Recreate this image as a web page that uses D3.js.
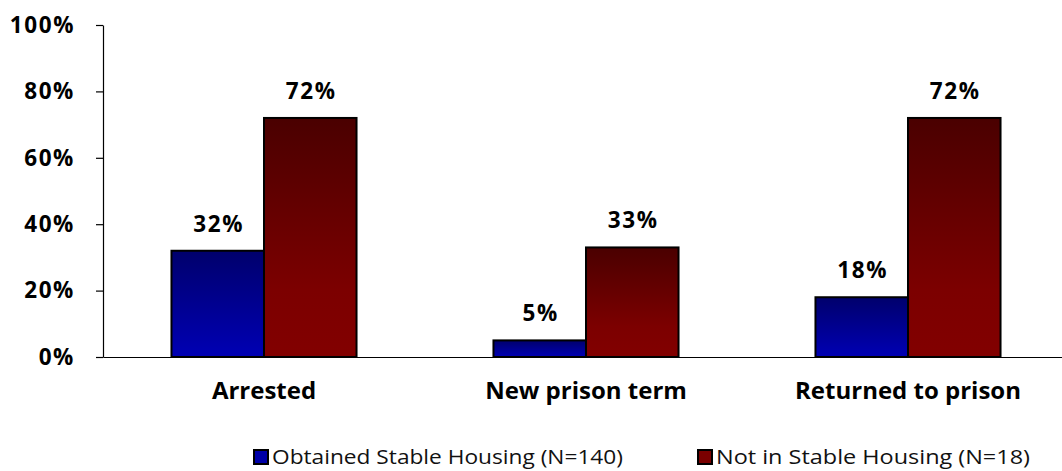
<!DOCTYPE html>
<html>
<head>
<meta charset="utf-8">
<script src="https://cdn.jsdelivr.net/npm/d3@7"></script>
<style>
  html, body { margin: 0; padding: 0; background: #fff; }
  svg { display: block; }
</style>
</head>
<body>
<svg id="chart" width="1062" height="471"></svg>
<script>
// Outcomes by housing status
const categories = ["Arrested", "New prison term", "Returned to prison"];
const seriesNames = ["Obtained Stable Housing (N=140)", "Not in Stable Housing (N=18)"];
const obtainedValues = [32, 5, 18];
const notStableValues = [72, 33, 72];
const yTicks = [0, 20, 40, 60, 80, 100];

const series = [
  { key: "obtained", name: seriesNames[0], values: obtainedValues },
  { key: "notStable", name: seriesNames[1], values: notStableValues }
];

const svg = d3.select("#chart");
const plot = { left: 103, right: 1069, top: 25, bottom: 357 };

const x0 = d3.scaleBand().domain(categories).range([plot.left, plot.right]).paddingInner(0).paddingOuter(0);
const x1 = d3.scaleBand().domain(series.map(s => s.key)).range([0, x0.bandwidth()]).paddingInner(0).paddingOuter(0.74);
const y = d3.scaleLinear().domain([0, 100]).range([plot.bottom, plot.top]);

// Vertical gradients, dark at the top of each bar
const defs = svg.append("defs");
const grads = {
  obtained: [["0%", "#00006c"], ["100%", "#0000b4"]],
  notStable: [["0%", "#4a0000"], ["72%", "#7c0000"], ["100%", "#820000"]]
};
Object.entries(grads).forEach(([k, stops]) => {
  const g = defs.append("linearGradient").attr("id", "grad-" + k)
    .attr("x1", 0).attr("y1", 0).attr("x2", 0).attr("y2", 1);
  stops.forEach(([o, c]) => g.append("stop").attr("offset", o).attr("stop-color", c));
});
const legendColor = { obtained: "#0000a8", notStable: "#7a0000" };

// Y axis
const yAxis = d3.axisLeft(y).tickValues(yTicks).tickFormat(d => d + "%")
  .tickSize(7).tickSizeOuter(0).tickPadding(21);
const gy = svg.append("g").attr("transform", `translate(${plot.left},0)`).call(yAxis);
gy.select(".domain").attr("stroke", "#000").attr("stroke-width", 1.2);
gy.selectAll(".tick line").attr("stroke", "#000").attr("stroke-width", 1.2);
gy.selectAll(".tick text")
  .attr("fill", "#000")
  .style("font-family", "'Open Sans', sans-serif")
  .style("font-weight", "700")
  .style("font-size", "22.5px")
  .style("letter-spacing", "1.6px");

// X axis baseline with category labels
const xAxis = d3.axisBottom(x0).tickSize(0).tickSizeOuter(0);
const gx = svg.append("g").attr("transform", `translate(0,${plot.bottom})`).call(xAxis);
gx.select(".domain").attr("stroke", "#000").attr("stroke-width", 1.2);
gx.selectAll(".tick text")
  .attr("y", 42).attr("dy", 0)
  .attr("fill", "#000")
  .style("font-family", "'Open Sans', sans-serif")
  .style("font-weight", "700")
  .style("font-size", "24px");

// Bars
const groups = svg.append("g").selectAll("g")
  .data(categories)
  .join("g")
  .attr("transform", d => `translate(${x0(d)},0)`);

groups.selectAll("rect")
  .data((c, i) => series.map(s => ({ key: s.key, value: s.values[i] })))
  .join("rect")
  .attr("x", d => x1(d.key))
  .attr("y", d => y(d.value))
  .attr("width", x1.bandwidth())
  .attr("height", d => y(0) - y(d.value))
  .attr("fill", d => `url(#grad-${d.key})`)
  .attr("stroke", "#000")
  .attr("stroke-width", 2);

// Value labels above bars
groups.selectAll("text.val")
  .data((c, i) => series.map(s => ({ key: s.key, value: s.values[i] })))
  .join("text")
  .attr("class", "val")
  .attr("x", d => x1(d.key) + x1.bandwidth() / 2 + 1)
  .attr("y", d => y(d.value) - 19)
  .attr("text-anchor", "middle")
  .attr("fill", "#000")
  .style("font-family", "'Open Sans', sans-serif")
  .style("font-weight", "700")
  .style("font-size", "22.5px")
  .style("letter-spacing", "1.6px")
  .text(d => d.value + "%");

// Legend
const legendItems = [
  { key: "obtained", name: seriesNames[0], x: 253, w: 351 },
  { key: "notStable", name: seriesNames[1], x: 697, w: 314 }
];
const lg = svg.append("g");
legendItems.forEach(it => {
  lg.append("rect")
    .attr("x", it.x + 1).attr("y", 450)
    .attr("width", 14).attr("height", 14)
    .attr("fill", legendColor[it.key])
    .attr("stroke", "#000").attr("stroke-width", 2);
  const t = lg.append("text")
    .attr("x", it.x + 19).attr("y", 464)
    .attr("fill", "#111")
    .style("font-family", "'Open Sans', sans-serif")
    .style("font-weight", "400")
    .style("font-size", "19.5px")
    .text(it.name);
  const len = t.node().getComputedTextLength();
  if (Math.abs(len - it.w) > 2) {
    t.attr("textLength", it.w).attr("lengthAdjust", "spacingAndGlyphs");
  }
});
</script>
</body>
</html>
